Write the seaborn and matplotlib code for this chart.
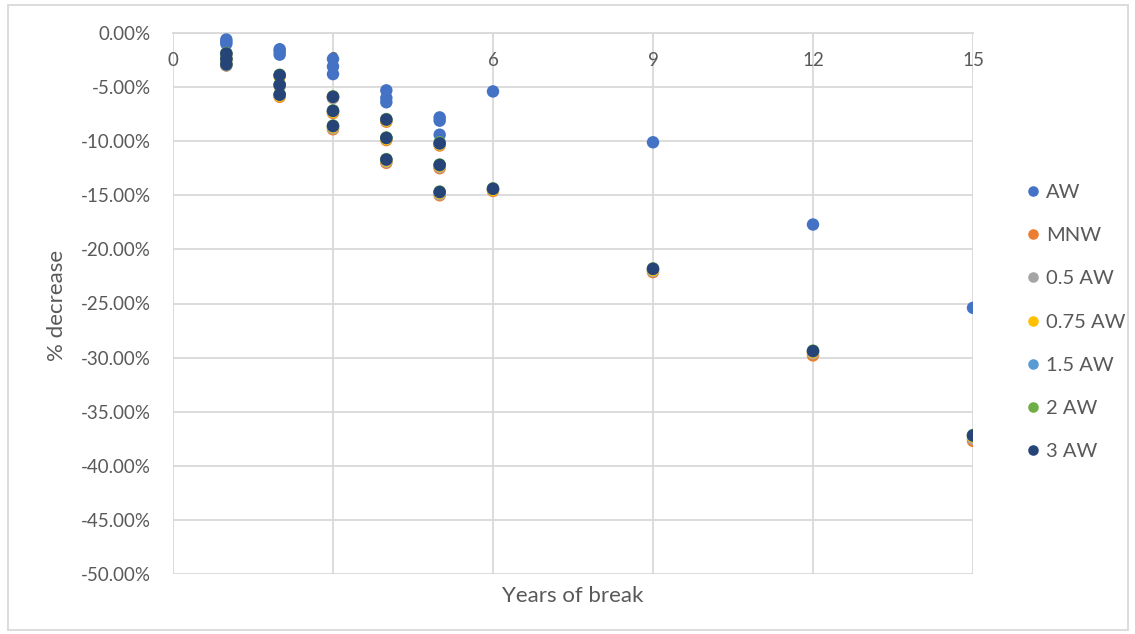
import matplotlib
matplotlib.use("Agg")
import matplotlib.pyplot as plt
import matplotlib.patches as mpatches
from matplotlib.ticker import FuncFormatter, MultipleLocator
import seaborn as sns
import pandas as pd

# ---- data (percent decrease) ----
series_names = ["AW", "MNW", "0.5 AW", "0.75 AW", "1.5 AW", "2 AW", "3 AW"]
colors = ["#4472C4", "#ED7D31", "#A5A5A5", "#FFC000", "#5B9BD5", "#70AD47", "#264478"]

years = [1, 1, 1, 2, 2, 2, 3, 3, 3, 4, 4, 4, 5, 5, 5, 6, 9, 12, 15]

aw      = [-0.6, -0.8, -1.0, -1.5, -1.7, -2.0, -2.4, -3.1, -3.8, -5.3, -6.0, -6.4, -7.8, -8.1, -9.4, -5.4, -10.1, -17.7, -25.4]
mnw     = [-2.0, -2.5, -3.0, -4.0, -4.9, -5.9, -6.0, -7.4, -8.9, -8.2, -9.9, -12.0, -10.4, -12.5, -15.0, -14.6, -22.1, -29.8, -37.7]
aw_05   = [-2.0, -2.5, -3.0, -4.0, -4.9, -5.8, -6.0, -7.3, -8.8, -8.1, -9.8, -11.9, -10.3, -12.4, -14.9, -14.5, -22.0, -29.6, -37.5]
aw_075  = [-1.9, -2.4, -2.9, -4.0, -4.8, -5.8, -5.9, -7.3, -8.7, -8.1, -9.8, -11.8, -10.3, -12.3, -14.8, -14.5, -21.9, -29.5, -37.3]
aw_15   = [-1.9, -2.4, -2.9, -3.9, -4.8, -5.7, -5.9, -7.2, -8.6, -8.0, -9.7, -11.7, -10.2, -12.2, -14.7, -14.4, -21.8, -29.4, -37.2]
aw_2    = [-1.85, -2.35, -2.85, -3.85, -4.75, -5.65, -5.85, -7.15, -8.55, -7.95, -9.65, -11.65, -10.1, -12.15, -14.65, -14.35, -21.75, -29.35, -37.15]
aw_3    = [-1.9, -2.4, -2.9, -3.9, -4.8, -5.7, -5.9, -7.2, -8.6, -8.0, -9.7, -11.7, -10.2, -12.2, -14.7, -14.4, -21.8, -29.4, -37.2]

values = [aw, mnw, aw_05, aw_075, aw_15, aw_2, aw_3]

x_ticks = [0, 3, 6, 9, 12, 15]

rows = []
for name, vals in zip(series_names, values):
    for xv, yv in zip(years, vals):
        rows.append({"Years of break": xv, "% decrease": yv, "Series": name})
df = pd.DataFrame(rows)

sns.set_theme(style="white")
plt.rcParams["font.family"] = ["Lato", "DejaVu Sans"]
text_color = "#595959"
grid_color = "#D9D9D9"

fig = plt.figure(figsize=(11.35, 6.34), dpi=100)
ax = fig.add_axes([173 / 1135, 1 - 574 / 634, 800 / 1135, 541 / 634])

sns.scatterplot(
    data=df, x="Years of break", y="% decrease", hue="Series",
    hue_order=series_names, palette=colors, s=80, linewidth=0,
    ax=ax, legend=True, zorder=3,
)

ax.set_xlim(0, 15)
ax.set_ylim(-50, 0)
ax.set_xticks(x_ticks)
ax.yaxis.set_major_locator(MultipleLocator(5))
ax.yaxis.set_major_formatter(FuncFormatter(lambda v, p: f"{v:.2f}%"))

ax.grid(True, color=grid_color, linewidth=1.3)
ax.set_axisbelow(True)
for side in ["top", "right", "left"]:
    ax.spines[side].set_visible(False)
ax.spines["bottom"].set_position(("data", 0))
ax.spines["bottom"].set_color(grid_color)
ax.spines["bottom"].set_linewidth(1.3)

ax.tick_params(axis="x", length=0, pad=14, labelsize=13.5, labelcolor=text_color)
ax.tick_params(axis="y", length=0, pad=16, labelsize=13.5, labelcolor=text_color)

ax.set_xlabel("")
ax.set_ylabel("")
fig.text(573 / 1135, 1 - 596 / 634, "Years of break", ha="center", va="center",
         fontsize=16, color=text_color)
fig.text(57 / 1135, 1 - 305 / 634, "% decrease", ha="center", va="center",
         rotation=90, fontsize=16, color=text_color)

handles, labels = ax.get_legend_handles_labels()
ax.legend(handles, labels, loc="center left", bbox_to_anchor=(1003 / 1135, 1 - 322 / 634),
          bbox_transform=fig.transFigure, frameon=False, fontsize=14.5,
          labelcolor=text_color, labelspacing=1.3, handletextpad=0.05,
          handlelength=1.2, markerscale=0.85)

fig.patches.append(mpatches.Rectangle((8 / 1135, 1 - 630 / 634), 1120 / 1135, 625 / 634,
                                      transform=fig.transFigure, fill=False,
                                      edgecolor=grid_color, linewidth=1.3))

fig.savefig("out.png", dpi=100)
